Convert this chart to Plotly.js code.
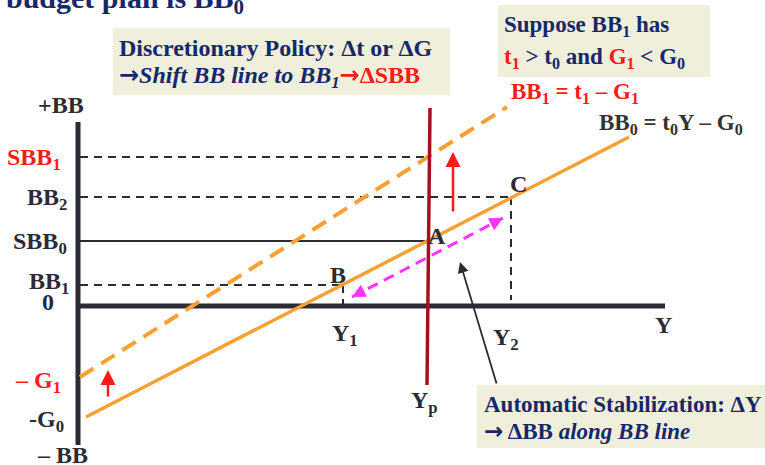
<!DOCTYPE html>
<html><head><meta charset="utf-8">
<script src="https://cdn.plot.ly/plotly-3.0.1.min.js"></script>
<style>html,body{margin:0;padding:0;background:#fff}</style>
</head><body><div id="chart" style="width:765px;height:465px"></div>
<script>
// ---- data (Y = output, BB = budget balance) ----
const axisHorizY = [0, 587];          // extent of Y axis
const axisVertBB = [184, -139];       // extent of BB axis
const bb0Y = [8, 551];  const bb0BB = [-111, 169];   // BB0 = t0Y - G0
const bb1Y = [2, 429];  const bb1BB = [-71, 199];    // BB1 = t1Y - G1 (dashed)
const ypY  = [352, 349]; const ypBB = [198, -79];    // potential output line
const levelNames = ['SBB1', 'BB2', 'SBB0', 'BB1'];
const levelBB    = [149, 109, 65, 21];
const levelEndY  = [352, 433, 350, 265];
const pointNames = ['A', 'B', 'C'];
const pointY  = [350, 265, 433];
const pointBB = [65, 21, 109];
const negLevels = { G1: -72, G0: -111 };
const stabY = [274, 425]; const stabBB = [9, 88];     // movement along BB line

const NAVY = '#15286a', DARK = '#2b2b35', RED = '#ff1a1a', ORANGE = '#f8a033', MAG = '#ff33ff', YP = '#a3121c';
const FONT = 'Liberation Serif, Times New Roman, serif';
const ARR = '<span style="font-family:DejaVu Sans">→</span>';

const traces = [];
function line(x, y, color, width, dash) {
  traces.push({x, y, type: 'scatter', mode: 'lines', hoverinfo: 'skip',
    line: {color, width, dash: dash || 'solid'}});
}
// axes
line([0, 0], axisVertBB, DARK, 5);
line(axisHorizY, [0, 0], DARK, 5);
// guide lines
levelNames.forEach((n, i) => {
  line([2, levelEndY[i]], [levelBB[i], levelBB[i]], DARK, 2, n === 'SBB0' ? 'solid' : '8px,6px');
});
line([pointY[1], pointY[1]], [pointBB[1], -7], DARK, 2, '8px,6px');
line([pointY[2], pointY[2]], [pointBB[2], 6], DARK, 2, '8px,6px');
// BB lines
line(bb1Y, bb1BB, ORANGE, 4, '16px,9px');
line(bb0Y, bb0BB, ORANGE, 3.5);
// Yp
line(ypY, ypBB, YP, 3.5);
// magenta movement
line(stabY, stabBB, MAG, 3, '11px,7px');

const ann = [];
function txt(x, y, text, opts) {
  ann.push(Object.assign({x, y, xref: 'x', yref: 'y', text, showarrow: false,
    xanchor: 'left', yanchor: 'middle',
    font: {family: FONT, size: 23, color: NAVY, weight: 'bold'}}, opts || {}));
}
function arrow(x, y, ax, ay, color, width, size) {
  ann.push({x, y, ax, ay, xref: 'x', yref: 'y', axref: 'x', ayref: 'y', text: '',
    showarrow: true, arrowhead: 2, arrowsize: size || 1, arrowwidth: width, arrowcolor: color});
}
// arrows
arrow(375, 154, 375, 93, RED, 2.5, 1.2);
arrow(30, -64, 30, -92, RED, 2.5, 1.2);
arrow(382, 44, 419, -79, DARK, 1.8, 1.2);
// magenta heads
const dx = stabY[1] - stabY[0], dy = stabBB[1] - stabBB[0], L = Math.hypot(dx, dy);
arrow(stabY[0], stabBB[0], stabY[0] + dx / L * 14, stabBB[0] + dy / L * 14, MAG, 3, 0.9);
arrow(stabY[1], stabBB[1], stabY[1] - dx / L * 14, stabBB[1] - dy / L * 14, MAG, 3, 0.9);

// title (cut off at top)
txt(-74, 306, 'budget plan is BB<sub>0</sub>', {font: {family: FONT, size: 30, color: NAVY, weight: 'bold'}});

const lab = {family: FONT, size: 24, color: DARK, weight: 'bold'};
const labR = Object.assign({}, lab, {color: RED});
// left axis labels
txt(8, 201, '+BB', {xanchor: 'right', font: lab});
txt(-15, levelBB[0] - 2, 'SBB<sub>1</sub>', {xanchor: 'right', font: labR});
txt(-9, levelBB[1] - 2, 'BB<sub>2</sub>', {xanchor: 'right', font: lab});
txt(-9, levelBB[2] - 2, 'SBB<sub>0</sub>', {xanchor: 'right', font: lab});
txt(-7, levelBB[3] + 2, 'BB<sub>1</sub>', {xanchor: 'right', font: lab});
txt(-22, 4, '0', {xanchor: 'right', font: lab});
txt(-15, negLevels.G1 - 4, '– G<sub>1</sub>', {xanchor: 'right', font: labR});
txt(-12, negLevels.G0 - 4, '-G<sub>0</sub>', {xanchor: 'right', font: lab});
txt(12, -149, '– BB', {xanchor: 'right', font: lab});
// point labels
txt(pointY[0] + 9, pointBB[0] + 5, pointNames[0], {xanchor: 'center', font: lab});
txt(pointY[1] - 5, pointBB[1] + 10, pointNames[1], {xanchor: 'center', font: lab});
txt(pointY[2] + 7, pointBB[2] + 13, pointNames[2], {xanchor: 'center', font: lab});
txt(pointY[1] + 2, -29, 'Y<sub>1</sub>', {xanchor: 'center', font: lab});
txt(pointY[2] - 5, -33, 'Y<sub>2</sub>', {xanchor: 'center', font: lab});
txt(585, -19, 'Y', {xanchor: 'center', font: lab});
txt(ypY[1] - 3, -96, 'Y<sub>p</sub>', {xanchor: 'center', font: lab});
// equations
txt(431, 213, 'BB<sub>1</sub> = t<sub>1</sub> – G<sub>1</sub>', {font: {family: FONT, size: 23, color: RED, weight: 'bold'}});
txt(519, 182, 'BB<sub>0</sub> = t<sub>0</sub>Y – G<sub>0</sub>', {font: {family: FONT, size: 23, color: '#333333', weight: 'bold'}});
// boxes text
txt(39, 258, 'Discretionary Policy: Δt or ΔG', {font: {family: FONT, size: 24, color: NAVY, weight: 'bold'}});
txt(39, 230, ARR + '<i>Shift BB line to BB<sub>1</sub></i><span style="color:' + RED + '">' + ARR + 'ΔSBB</span>', {font: {family: FONT, size: 24, color: NAVY, weight: 'bold'}});
txt(424, 280, 'Suppose BB<sub>1</sub> has', {font: {family: FONT, size: 23, color: NAVY, weight: 'bold'}});
txt(424, 248, '<span style="color:' + RED + '">t<sub>1</sub></span> > t<sub>0</sub> and <span style="color:' + RED + '">G<sub>1</sub></span> < G<sub>0</sub>', {font: {family: FONT, size: 23, color: NAVY, weight: 'bold'}});
txt(404, -98, 'Automatic Stabilization: ΔY', {font: {family: FONT, size: 23, color: NAVY, weight: 'bold'}});
txt(404, -125, ARR + ' ΔBB <i>along BB line</i>', {font: {family: FONT, size: 23, color: NAVY, weight: 'bold'}});

const BOX = '#efefdb';
const shapes = [
  {type: 'rect', xref: 'x', yref: 'y', x0: 35, x1: 372, y0: 211, y1: 278, fillcolor: BOX, line: {width: 0}, layer: 'below'},
  {type: 'rect', xref: 'x', yref: 'y', x0: 420, x1: 632, y0: 229, y1: 301, fillcolor: BOX, line: {width: 0}, layer: 'below'},
  {type: 'rect', xref: 'x', yref: 'y', x0: 399, x1: 690, y0: -142, y1: -79, fillcolor: BOX, line: {width: 0}, layer: 'below'}
];

Plotly.newPlot('chart', traces, {
  width: 765, height: 465, margin: {l: 0, r: 0, t: 0, b: 0},
  paper_bgcolor: '#fff', plot_bgcolor: '#fff', showlegend: false,
  xaxis: {range: [-78, 687], visible: false, fixedrange: true},
  yaxis: {range: [-159, 306], visible: false, fixedrange: true},
  annotations: ann, shapes: shapes
}, {displayModeBar: false, staticPlot: true});
</script></body></html>
